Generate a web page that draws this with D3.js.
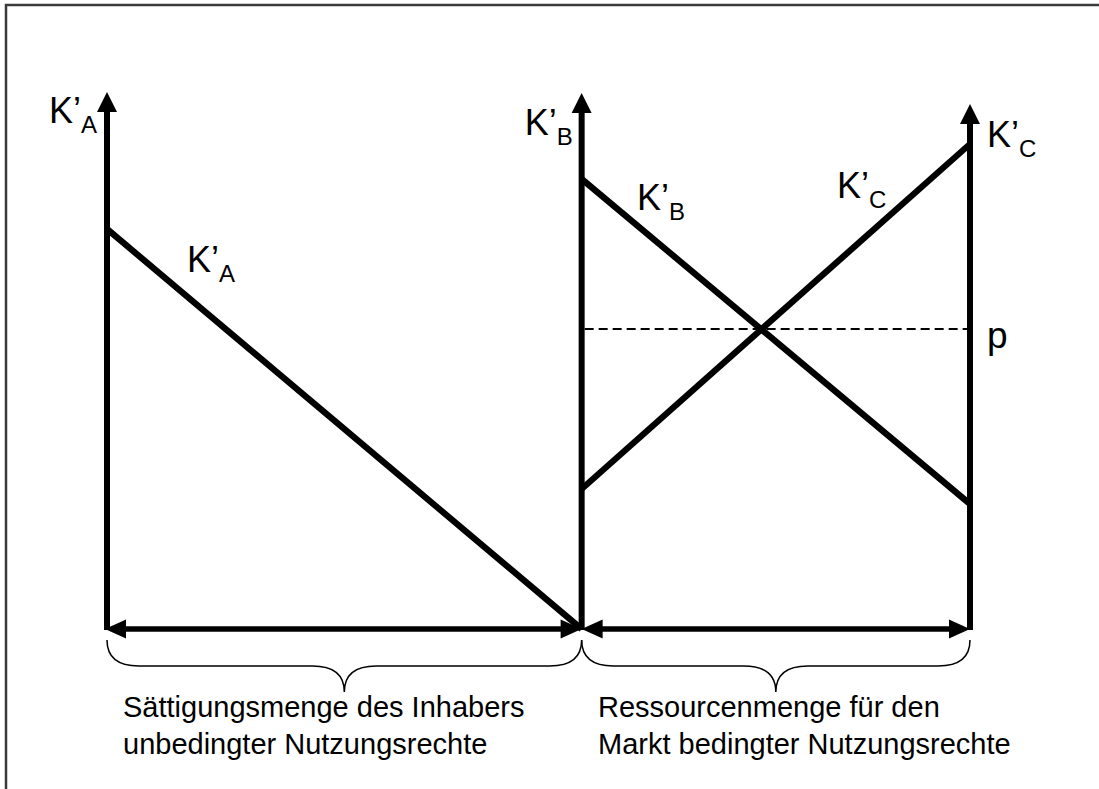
<!DOCTYPE html>
<html>
<head>
<meta charset="utf-8">
<script src="https://cdn.jsdelivr.net/npm/d3@7"></script>
<style>
  html, body { margin: 0; padding: 0; background: #fff; }
  svg { display: block; }
  text { font-family: "Liberation Sans", Arial, sans-serif; fill: #000; }
</style>
</head>
<body>
<svg id="chart" width="1099" height="789"></svg>
<script>
// ---- data ----
const quantityDomain = [0, 100];          // horizontal quantity axis
const valueDomain = [0, 100];             // marginal cost / value axis
const saturationQty = 55;                 // boundary between the two panels
const axisQty = [0, 55, 100];             // positions of the three vertical axes
const axisTopValue = [107.4, 107.2, 105]; // heights of the vertical axis arrows
const curveA = [{q: 0, v: 80}, {q: 55, v: 0}];    // K'A
const curveB = [{q: 55, v: 90}, {q: 100, v: 25}]; // K'B
const curveC = [{q: 55, v: 28}, {q: 100, v: 97}]; // K'C
const priceP = 60;                                // p
const axisLabels = ["A", "B", "C"];
const captionLeft = ["Sättigungsmenge des Inhabers", "unbedingter Nutzungsrechte"];
const captionRight = ["Ressourcenmenge für den", "Markt bedingter Nutzungsrechte"];

// ---- setup ----
const svg = d3.select("#chart");
const x = d3.scaleLinear().domain(quantityDomain).range([107, 970]);
const y = d3.scaleLinear().domain(valueDomain).range([629, 129]);

// frame (top and left borders)
svg.append("path")
  .attr("d", "M6,789 L6,5 L1099,5")
  .attr("fill", "none")
  .attr("stroke", "#3a3a3a")
  .attr("stroke-width", 2.5);

const g = svg.append("g");

// ---- vertical axes with arrowheads ----
axisQty.forEach((q, i) => {
  const xx = x(q);
  const tip = y(axisTopValue[i]);
  g.append("line")
    .attr("x1", xx).attr("x2", xx)
    .attr("y1", y(0) + 1).attr("y2", tip + 14)
    .attr("stroke", "#000").attr("stroke-width", 6);
  g.append("path")
    .attr("d", `M${xx},${tip} L${xx + 10},${tip + 20} L${xx - 10},${tip + 20} Z`)
    .attr("fill", "#000");
});

// ---- horizontal double arrows ----
function hArrow(q0, q1) {
  const x0 = x(q0) - (q0 === 0 ? 2 : 0), x1 = x(q1);
  const yy = y(0);
  g.append("line")
    .attr("x1", x0 + 14).attr("x2", x1 - 14)
    .attr("y1", yy).attr("y2", yy)
    .attr("stroke", "#000").attr("stroke-width", 5.5);
  g.append("path")
    .attr("d", `M${x0},${yy} L${x0 + 21},${yy - 9.5} L${x0 + 21},${yy + 9.5} Z`)
    .attr("fill", "#000");
  g.append("path")
    .attr("d", `M${x1},${yy} L${x1 - 21},${yy - 9.5} L${x1 - 21},${yy + 9.5} Z`)
    .attr("fill", "#000");
}
hArrow(quantityDomain[0], saturationQty);
hArrow(saturationQty, quantityDomain[1]);

// ---- curves ----
const line = d3.line().x(d => x(d.q)).y(d => y(d.v));
[curveA, curveB, curveC].forEach(c => {
  g.append("path")
    .attr("d", line(c))
    .attr("fill", "none")
    .attr("stroke", "#000")
    .attr("stroke-width", 6.3);
});

// price line p
g.append("line")
  .attr("x1", x(saturationQty) + 3).attr("x2", x(quantityDomain[1]) - 3)
  .attr("y1", y(priceP)).attr("y2", y(priceP))
  .attr("stroke", "#000").attr("stroke-width", 1.8)
  .attr("stroke-dasharray", "9,5");

// ---- braces ----
function brace(x0, x1) {
  const yTop = 640, yMid = 666, yTip = 692, r = 32;
  const xm = (x0 + x1) / 2;
  return `M${x0},${yTop} Q${x0},${yMid} ${x0 + r},${yMid} L${xm - r},${yMid} ` +
         `Q${xm},${yMid} ${xm},${yTip} Q${xm},${yMid} ${xm + r},${yMid} ` +
         `L${x1 - r},${yMid} Q${x1},${yMid} ${x1},${yTop}`;
}
g.append("path").attr("d", brace(x(quantityDomain[0]), x(saturationQty)))
  .attr("fill", "none").attr("stroke", "#000").attr("stroke-width", 1.5);
g.append("path").attr("d", brace(x(saturationQty), x(quantityDomain[1])))
  .attr("fill", "none").attr("stroke", "#000").attr("stroke-width", 1.5);

// ---- labels ----
function kLabel(px, py, sub) {
  const t = g.append("text").attr("x", px).attr("y", py).attr("font-size", 36);
  t.append("tspan").text("K\u2019");
  t.append("tspan").attr("font-size", 24).attr("dy", 10).text(sub);
}
// axis labels
kLabel(x(axisQty[0]) - 58, y(axisTopValue[0]) + 31, axisLabels[0]);
kLabel(x(axisQty[1]) - 57, y(axisTopValue[1]) + 42, axisLabels[1]);
kLabel(x(axisQty[2]) + 17, y(axisTopValue[2]) + 43, axisLabels[2]);
// curve labels
kLabel(187, 272, axisLabels[0]);
kLabel(637, 210, axisLabels[1]);
kLabel(837, 198, axisLabels[2]);
// p
g.append("text").attr("x", x(quantityDomain[1]) + 17).attr("y", y(priceP) + 19)
  .attr("font-size", 37).text("p");

// captions
captionLeft.forEach((s, i) => {
  g.append("text").attr("x", 123).attr("y", 717 + i * 37).attr("font-size", 29).text(s);
});
captionRight.forEach((s, i) => {
  g.append("text").attr("x", 598).attr("y", 717 + i * 37).attr("font-size", 29).text(s);
});
</script>
</body>
</html>
